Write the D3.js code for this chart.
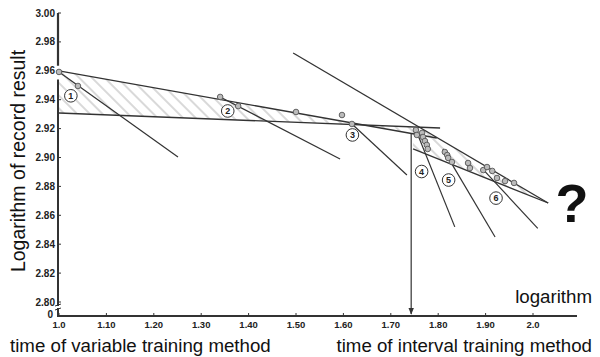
<!DOCTYPE html>
<html><head><meta charset="utf-8">
<script src="https://cdn.jsdelivr.net/npm/d3@7"></script>
<style>body{margin:0;background:#fff}svg{display:block}text{font-family:Arial,"Liberation Sans",sans-serif}</style>
</head><body><div id="c"></div>
<script>
const xTicks = [1.0,1.1,1.2,1.3,1.4,1.5,1.6,1.7,1.8,1.9,2.0];
const xTickLabels = ["1.0","1.10","1.20","1.30","1.40","1.50","1.60","1.70","1.80","1.90","2.0"];
const yTicks = [3.00,2.98,2.96,2.94,2.92,2.90,2.88,2.86,2.84,2.82,2.80];
const yTickLabels = ["3.00","2.98","2.96","2.94","2.92","2.90","2.88","2.86","2.84","2.82","2.80"];
// observed points [x, y]
const pointsX = [1.000,1.040,1.340,1.378,1.500,1.597,1.618,1.753,1.766,1.755,1.768,1.772,1.776,1.778,1.814,1.819,1.821,1.829,1.863,1.867,1.895,1.903,1.914,1.924,1.941,1.960];
const pointsY = [2.9592,2.9495,2.9419,2.9356,2.9315,2.9294,2.9232,2.9190,2.9170,2.9156,2.9142,2.9114,2.9087,2.9059,2.9038,2.9017,2.8997,2.8969,2.8962,2.8927,2.8913,2.8934,2.8907,2.8858,2.8837,2.8824];
// band 1 (variable training) boundaries
const band1Top = [[1.0,2.96],[1.797,2.9135]];
const band1Bottom = [[1.0,2.9308],[1.804,2.9204]];
// band 2 (interval training) boundaries
const band2Top = [[1.494,2.9723],[2.032,2.8685]];
const band2Bottom = [[1.747,2.9059],[2.032,2.8685]];
// descending trend lines 1..6
const trendLabels = ["1","2","3","4","5","6"];
const trendStart = [[1.0,2.9592],[1.34,2.9419],[1.618,2.9232],[1.753,2.919],[1.81,2.906],[1.894,2.892]];
const trendEnd = [[1.251,2.9003],[1.593,2.8989],[1.734,2.8879],[1.835,2.852],[1.92,2.845],[2.01,2.851]];
const labelPos = [[1.025,2.9427],[1.356,2.9322],[1.619,2.9156],[1.765,2.8903],[1.822,2.8844],[1.922,2.8719]];
const arrowX = 1.743, arrowTopY = 2.9170;

const W=600,H=357;
const x = d3.scaleLinear().domain([1.0,2.0]).range([59,533]);
const y = d3.scaleLinear().domain([2.80,3.00]).range([302,13]);
const axisY = 316, axisX = 58;
const ink = "#333";

const svg = d3.select("#c").append("svg").attr("width",W).attr("height",H);
const defs = svg.append("defs");
const pat = defs.append("pattern").attr("id","hatch").attr("patternUnits","userSpaceOnUse")
  .attr("width",9).attr("height",9).attr("patternTransform","rotate(-45)");
pat.append("line").attr("x1",1).attr("y1",0).attr("x2",1).attr("y2",9).attr("stroke","#aaa").attr("stroke-width",0.9);
defs.append("marker").attr("id","arr").attr("viewBox","0 0 10 10").attr("refX",9).attr("refY",5)
  .attr("markerWidth",6).attr("markerHeight",8).attr("orient","auto")
  .append("path").attr("d","M0,1 L10,5 L0,9 Z").attr("fill",ink);

function yAt(seg, xv){const [a,b]=seg;return a[1]+(b[1]-a[1])*(xv-a[0])/(b[0]-a[0]);}

const b1end = 1.75;
const poly1 = [[1.0,yAt(band1Top,1.0)],[b1end,yAt(band1Top,b1end)],[b1end,yAt(band1Bottom,b1end)],[1.0,yAt(band1Bottom,1.0)]];
svg.append("path").attr("d",d3.line().x(d=>x(d[0])).y(d=>y(d[1]))(poly1)+"Z").attr("fill","url(#hatch)");
const b2s = 1.747, b2e = 2.032;
const poly2 = [[b2s,yAt(band2Top,b2s)],[b2e,yAt(band2Top,b2e)],[b2s,yAt(band2Bottom,b2s)]];
svg.append("path").attr("d",d3.line().x(d=>x(d[0])).y(d=>y(d[1]))(poly2)+"Z").attr("fill","url(#hatch)");

const seg = (s,w)=>svg.append("line").attr("x1",x(s[0][0])).attr("y1",y(s[0][1])).attr("x2",x(s[1][0])).attr("y2",y(s[1][1]))
  .attr("stroke",ink).attr("stroke-width",w||1.2);
[band1Top,band1Bottom,band2Top,band2Bottom].forEach(s=>seg(s,1.3));
trendStart.forEach((s,i)=>seg([s,trendEnd[i]],1.2));

svg.append("line").attr("x1",x(arrowX)).attr("x2",x(arrowX)).attr("y1",y(arrowTopY)).attr("y2",axisY-2)
  .attr("stroke",ink).attr("stroke-width",1.2).attr("marker-end","url(#arr)");

svg.append("line").attr("x1",axisX).attr("x2",axisX).attr("y1",y(3.00)).attr("y2",y(2.9635)).attr("stroke",ink).attr("stroke-width",2.2);
svg.append("line").attr("x1",axisX).attr("x2",axisX).attr("y1",y(2.954)).attr("y2",axisY).attr("stroke",ink).attr("stroke-width",2);
svg.append("line").attr("x1",axisX-1).attr("x2",577).attr("y1",axisY).attr("y2",axisY).attr("stroke",ink).attr("stroke-width",2);
svg.append("path").attr("d",`M${axisX-3},${y(2.80)+4} l6,-2 M${axisX-3},${y(2.80)+8} l6,-2`).attr("stroke",ink).attr("stroke-width",1).attr("fill","none");
svg.append("rect").attr("x",axisX-2).attr("y",y(2.80)+4).attr("width",4).attr("height",2).attr("fill","#fff");

yTicks.forEach((t,i)=>{
  svg.append("line").attr("x1",axisX).attr("x2",axisX+3).attr("y1",y(t)).attr("y2",y(t)).attr("stroke",ink).attr("stroke-width",1);
  svg.append("text").attr("x",axisX-3).attr("y",y(t)+3.5).attr("text-anchor","end").attr("font-size",10).attr("font-weight","bold").attr("fill","#222").text(yTickLabels[i]);
});
svg.append("text").attr("x",axisX-5).attr("y",axisY+2).attr("text-anchor","end").attr("font-size",10).attr("font-weight","bold").attr("fill","#222").text("0");
xTicks.forEach((t,i)=>{
  svg.append("line").attr("x1",x(t)).attr("x2",x(t)).attr("y1",axisY).attr("y2",axisY-3).attr("stroke",ink).attr("stroke-width",1);
  svg.append("text").attr("x",x(t)).attr("y",axisY+12).attr("text-anchor","middle").attr("font-size",9.5).attr("font-weight","bold").attr("fill","#222").text(xTickLabels[i]);
});

pointsX.forEach((px,i)=>{
  svg.append("circle").attr("cx",x(px)).attr("cy",y(pointsY[i])).attr("r",2.8).attr("fill","#bbb").attr("stroke","#555").attr("stroke-width",0.9);
});
labelPos.forEach((p,i)=>{
  svg.append("circle").attr("cx",x(p[0])).attr("cy",y(p[1])).attr("r",6.3).attr("fill","#fff").attr("stroke",ink).attr("stroke-width",1);
  svg.append("text").attr("x",x(p[0])).attr("y",y(p[1])+3.2).attr("text-anchor","middle").attr("font-size",9).attr("font-weight","bold").attr("fill","#222").text(trendLabels[i]);
});

svg.append("text").attr("transform","translate(25,161) rotate(-90)").attr("text-anchor","middle").attr("font-size",19.5).attr("fill","#111").text("Logarithm of record result");
svg.append("text").attr("x",10).attr("y",352).attr("font-size",18.7).attr("fill","#111").text("time of variable training method");
svg.append("text").attr("x",592).attr("y",352).attr("text-anchor","end").attr("font-size",18.7).attr("fill","#111").text("time of interval training method");
svg.append("text").attr("x",592).attr("y",303).attr("text-anchor","end").attr("font-size",18.7).attr("fill","#111").text("logarithm");
svg.append("text").attr("x",572).attr("y",222).attr("text-anchor","middle").attr("font-size",54).attr("font-weight","bold").attr("fill","#111").text("?");
</script></body></html>
